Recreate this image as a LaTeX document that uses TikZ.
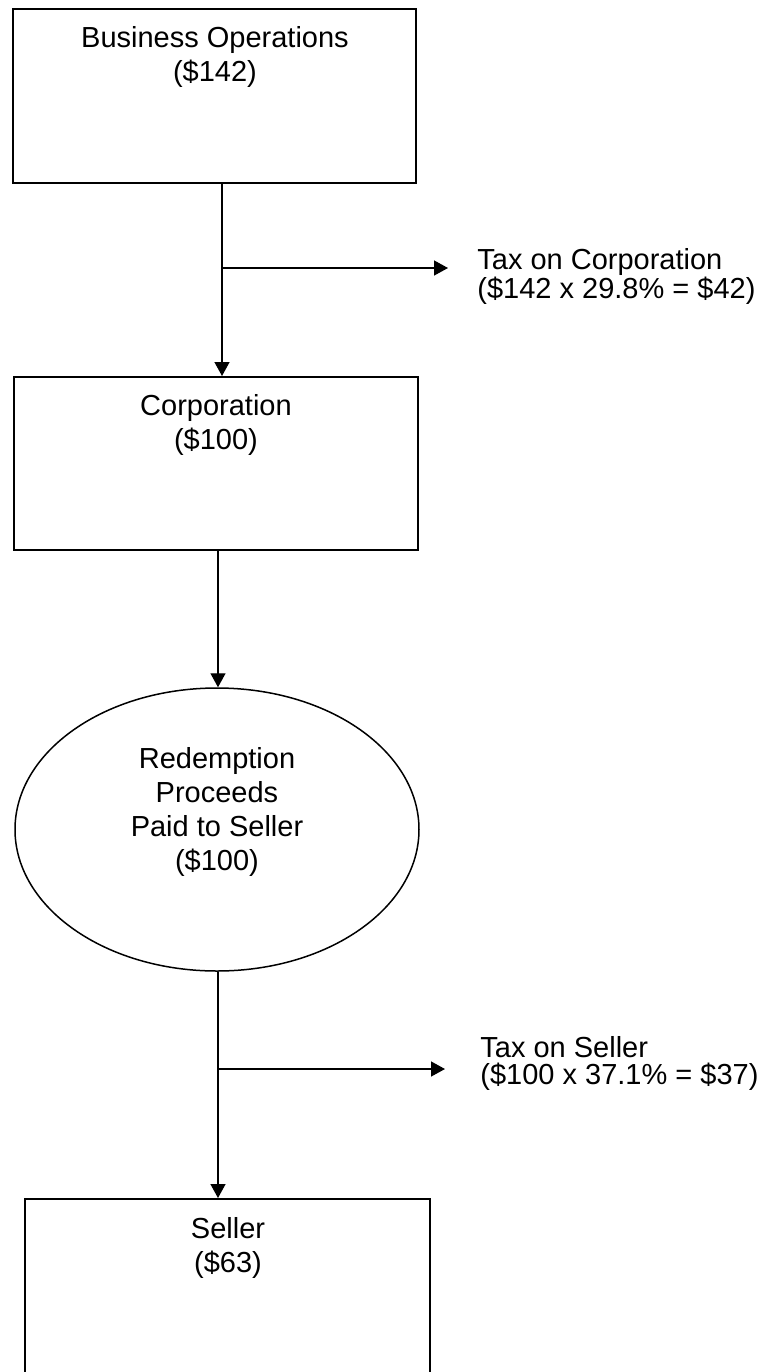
\documentclass[tikz,border=0pt]{standalone}
\usepackage{fontspec}
\setmainfont{Liberation Sans}
\usetikzlibrary{arrows.meta, shapes.geometric}

\begin{document}
\begin{tikzpicture}[x=0.5pt, y=-0.5pt,
  box/.style={draw, line width=1pt, inner sep=0pt},
  oval/.style={draw, ellipse, line width=0.75pt, inner sep=0pt},
  lbl/.style={font=\fontsize{14.5}{17}\selectfont, align=center, inner sep=0pt, anchor=north},
  side/.style={font=\fontsize{14.5}{13.5}\selectfont, align=left, inner sep=0pt, anchor=north west},
  flow/.style={line width=0.7pt, -{Triangle[length=7pt, width=7.5pt]}},
  link/.style={line width=0.7pt}
  ]
  \useasboundingbox (0,0) rectangle (764,1372);
  \clip (0,0) rectangle (764,1372);

  % boxes and the ellipse
  \node[box, minimum width=201.5pt, minimum height=87pt] (ops) at (214.5,96) {};
  \node[box, minimum width=202pt, minimum height=86.5pt] (corp) at (216,463.5) {};
  \node[oval, minimum width=202pt, minimum height=141.5pt] (red) at (217,829.5) {};
  \node[box, minimum width=202.5pt, minimum height=100pt] (sell) at (227.5,1299) {};

  % texts
  \node[lbl] (opsT) at (215,26) {Business Operations\\(\$142)};
  \node[lbl] (corpT) at (216,394) {Corporation\\(\$100)};
  \node[lbl] (redT) at (217,747) {Redemption\\Proceeds\\Paid to Seller\\(\$100)};
  \node[lbl] (sellT) at (228,1217) {Seller\\(\$63)};
  \node[side] (taxC) at (477,248) {Tax on Corporation\\(\$142 x 29.8\% = \$42)};
  \node[side] (taxS) at (480,1036) {Tax on Seller\\(\$100 x 37.1\% = \$37)};

  % branch points and arrow ends
  \coordinate (j1) at (222,268);
  \coordinate (e1) at (448,268);
  \coordinate (j2) at (218,1069);
  \coordinate (e2) at (445,1069);

  % connectors
  \draw[flow] (ops.south -| j1) -- (corp.north -| j1);
  \draw[flow] (j1) -- (e1);
  \draw[flow] (corp.south -| j2) -- (red.north -| j2);
  \draw[link] (red.south -| j2) -- (j2);
  \draw[flow] (j2) -- (sell.north -| j2);
  \draw[flow] (j2) -- (e2);
\end{tikzpicture}
\end{document}
